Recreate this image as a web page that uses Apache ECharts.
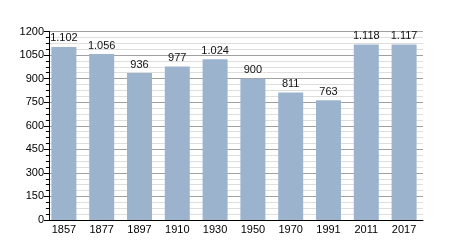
<!DOCTYPE html>
<html>
<head>
<meta charset="utf-8">
<script src="https://cdn.jsdelivr.net/npm/echarts@6/dist/echarts.min.js"></script>
<style>html,body{margin:0;padding:0;background:#fff;}#c{width:450px;height:250px;}</style>
</head>
<body>
<div id="c"></div>
<script>
const years = ['1857','1877','1897','1910','1930','1950','1970','1991','2011','2017'];
const population = [1102, 1056, 936, 977, 1024, 900, 811, 763, 1118, 1117];
const yTicks = [0, 150, 300, 450, 600, 750, 900, 1050, 1200];

function fmt(v){
  const s = String(v);
  return s.replace(/\B(?=(\d{3})+(?!\d))/g, '.');
}

const chart = echarts.init(document.getElementById('c'), null, {renderer:'canvas'});
chart.setOption({
  animation: false,
  backgroundColor: '#fff',
  grid: {left: 45, right: 27, top: 31.5, bottom: 30, containLabel: false},
  xAxis: {
    type: 'category',
    data: years,
    boundaryGap: true,
    axisLine: {show: true, lineStyle: {color: '#000', width: 1}},
    axisTick: {show: false},
    axisLabel: {color: '#000', fontSize: 11, fontFamily: 'Liberation Sans, Arial, sans-serif', margin: 4, interval: 0},
    splitLine: {show: false}
  },
  yAxis: {
    type: 'value',
    min: yTicks[0],
    max: yTicks[yTicks.length-1],
    interval: 150,
    offset: -4,
    axisLine: {show: true, lineStyle: {color: '#000', width: 1}},
    axisTick: {show: true, inside: false, length: 5, lineStyle: {color: '#000'}},
    minorTick: {show: true, splitNumber: 4, length: 3, lineStyle: {color: '#000'}},
    axisLabel: {color: '#000', fontSize: 11, fontFamily: 'Liberation Sans, Arial, sans-serif', margin: 5, formatter: v => String(v)},
    splitLine: {show: true, lineStyle: {color: '#a0a0a0', width: 1}},
    minorSplitLine: {show: true, lineStyle: {color: '#dedede', width: 1}}
  },
  series: [{
    type: 'bar',
    data: population,
    barWidth: 25,
    itemStyle: {color: '#9bb3cd'},
    label: {
      show: true,
      position: 'top',
      distance: 3,
      color: '#111',
      fontSize: 11,
      fontFamily: 'Liberation Sans, Arial, sans-serif',
      formatter: p => fmt(p.value)
    }
  }]
});
</script>
</body>
</html>
